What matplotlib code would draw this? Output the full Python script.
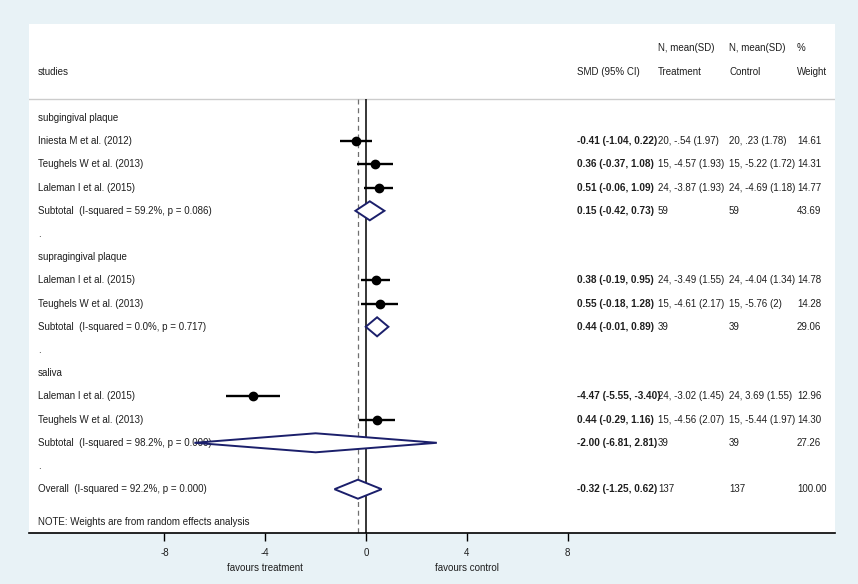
import matplotlib
matplotlib.use('Agg')
import matplotlib.pyplot as plt
from matplotlib.patches import Polygon
import matplotlib.transforms as mtransforms

# ---- data ----
labels = ['subgingival plaque',
          'Iniesta M et al. (2012)',
          'Teughels W et al. (2013)',
          'Laleman I et al. (2015)',
          'Subtotal  (I-squared = 59.2%, p = 0.086)',
          '.',
          'supragingival plaque',
          'Laleman I et al. (2015)',
          'Teughels W et al. (2013)',
          'Subtotal  (I-squared = 0.0%, p = 0.717)',
          '.',
          'saliva',
          'Laleman I et al. (2015)',
          'Teughels W et al. (2013)',
          'Subtotal  (I-squared = 98.2%, p = 0.000)',
          '.',
          'Overall  (I-squared = 92.2%, p = 0.000)']
# kind: h = group header, s = study, d = pooled (diamond), b = blank
kinds = ['h', 's', 's', 's', 'd', 'b',
         'h', 's', 's', 'd', 'b',
         'h', 's', 's', 'd', 'b',
         'd']
smd = [None, -0.41, 0.36, 0.51, 0.15, None,
       None, 0.38, 0.55, 0.44, None,
       None, -4.47, 0.44, -2.00, None,
       -0.32]
ci_lo = [None, -1.04, -0.37, -0.06, -0.42, None,
         None, -0.19, -0.18, -0.01, None,
         None, -5.55, -0.29, -6.81, None,
         -1.25]
ci_hi = [None, 0.22, 1.08, 1.09, 0.73, None,
         None, 0.95, 1.28, 0.89, None,
         None, -3.40, 1.16, 2.81, None,
         0.62]
treatment = ['', '20, -.54 (1.97)', '15, -4.57 (1.93)', '24, -3.87 (1.93)', '59', '',
             '', '24, -3.49 (1.55)', '15, -4.61 (2.17)', '39', '',
             '', '24, -3.02 (1.45)', '15, -4.56 (2.07)', '39', '',
             '137']
control = ['', '20, .23 (1.78)', '15, -5.22 (1.72)', '24, -4.69 (1.18)', '59', '',
           '', '24, -4.04 (1.34)', '15, -5.76 (2)', '39', '',
           '', '24, 3.69 (1.55)', '15, -5.44 (1.97)', '39', '',
           '137']
weight = ['', '14.61', '14.31', '14.77', '43.69', '',
          '', '14.78', '14.28', '29.06', '',
          '', '12.96', '14.30', '27.26', '',
          '100.00']
overall_smd = -0.32
xticks = [-8, -4, 0, 4, 8]
note = 'NOTE: Weights are from random effects analysis'

# ---- style ----
plt.rcParams['font.family'] = ['Liberation Sans', 'DejaVu Sans']
plt.rcParams['font.size'] = 7
plt.rcParams['axes.unicode_minus'] = False
txt_col = '#1e1e1e'
navy = '#1b1f6b'
bg = '#e8f2f6'

W, H = 858, 584
fig = plt.figure(figsize=(W / 100, H / 100), dpi=100, facecolor=bg)
ax = fig.add_axes([29 / W, (H - 533) / H, (835 - 29) / W, (533 - 24) / H])
ax.set_facecolor('white')

# x: 0 at px 366, 25.2 px per unit; y: row units of 23.2 px, row 0 at px 118
px_unit = 25.2
ax.set_xlim((29 - 366) / px_unit, (835 - 366) / px_unit)
ax.set_ylim((533 - 118) / 23.2, (24 - 118) / 23.2)

x_lab = (38 - 366) / px_unit
x_smd = (577 - 366) / px_unit
x_trt = (658 - 366) / px_unit
x_ctl = (729 - 366) / px_unit
x_wt = (797 - 366) / px_unit
y_hline = (99 - 118) / 23.2
y_bottom = ax.get_ylim()[0]

# headers
ax.text(x_lab, -2, 'studies', va='center', color=txt_col)
ax.text(x_smd, -2, 'SMD (95% CI)', va='center', color=txt_col)
ax.text(x_trt, -3, 'N, mean(SD)', va='center', color=txt_col)
ax.text(x_trt, -2, 'Treatment', va='center', color=txt_col)
ax.text(x_ctl, -3, 'N, mean(SD)', va='center', color=txt_col)
ax.text(x_ctl, -2, 'Control', va='center', color=txt_col)
ax.text(x_wt, -3, '%', va='center', color=txt_col)
ax.text(x_wt, -2, 'Weight', va='center', color=txt_col)
ax.axhline(y_hline, color='#cccccc', lw=1)

# reference lines
ax.vlines(0, y_hline, y_bottom, color='black', lw=1.1, zorder=2)
ax.vlines(overall_smd, y_hline, y_bottom, color='#707070', lw=0.9,
          linestyles=(0, (4, 3)), zorder=2)

for i, lab in enumerate(labels):
    ax.text(x_lab, i, lab, va='center', color=txt_col)
    if smd[i] is None:
        continue
    ax.text(x_smd, i, f'{smd[i]:.2f} ({ci_lo[i]:.2f}, {ci_hi[i]:.2f})',
            va='center', color=txt_col, fontweight='bold', fontsize=7.2)
    ax.text(x_trt, i, treatment[i], va='center', color=txt_col)
    ax.text(x_ctl, i, control[i], va='center', color=txt_col)
    ax.text(x_wt, i, weight[i], va='center', color=txt_col)
    if kinds[i] == 's':
        ax.plot([ci_lo[i], ci_hi[i]], [i, i], color='black', lw=1.7,
                solid_capstyle='butt', zorder=3)
        ax.plot(smd[i], i, 'o', color='black', ms=6, zorder=4)
    else:
        hh = 0.41
        dia = Polygon([[ci_lo[i], i], [smd[i], i - hh], [ci_hi[i], i],
                       [smd[i], i + hh]], closed=True, facecolor='white',
                      edgecolor=navy, lw=1.4, zorder=5)
        ax.add_patch(dia)

ax.text(x_lab, 17.41, note, va='center', color=txt_col)

# axis styling
for s in ['top', 'right', 'left']:
    ax.spines[s].set_visible(False)
ax.spines['bottom'].set_linewidth(1.2)
ax.set_yticks([])
ax.set_xticks(xticks)
ax.tick_params(axis='x', direction='out', length=6, width=1, pad=5,
               labelsize=7, labelcolor=txt_col)

trans = mtransforms.blended_transform_factory(ax.transData, ax.transAxes)
y_fav = -(568 - 533) / (533 - 24)
ax.text(-4, y_fav, 'favours treatment', ha='center', va='center',
        transform=trans, color=txt_col)
ax.text(4, y_fav, 'favours control', ha='center', va='center',
        transform=trans, color=txt_col)

fig.savefig('out.png', dpi=100, facecolor=bg)
